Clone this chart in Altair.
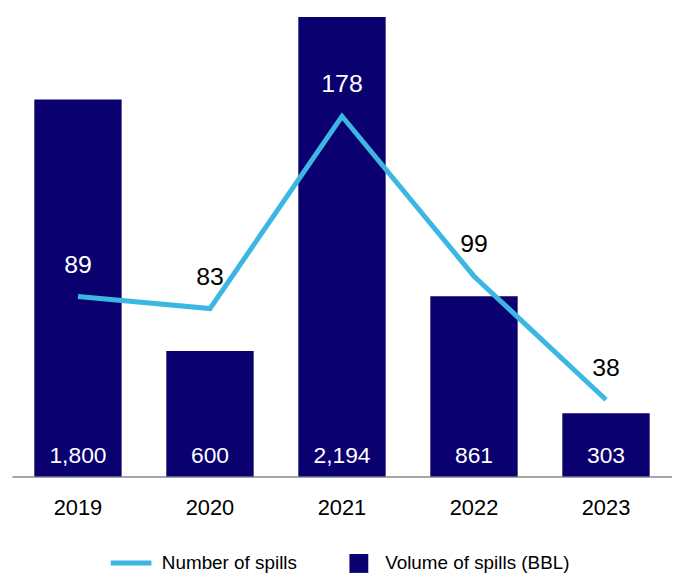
import altair as alt
import pandas as pd

years = ["2019", "2020", "2021", "2022", "2023"]
volumes = [1800, 600, 2194, 861, 303]
counts = [89, 83, 178, 99, 38]

NAVY = "#0a0070"
BLUE = "#3cb6e3"
FONT = "Liberation Sans"

df = pd.DataFrame({"year": years, "volume": volumes, "count": counts})

x_enc = alt.X(
    "year:N",
    title=None,
    scale=alt.Scale(paddingInner=0.338, paddingOuter=0.169),
    axis=alt.Axis(
        labelAngle=0,
        labelFontSize=22,
        labelFont=FONT,
        labelColor="#000000",
        labelPadding=21,
        ticks=False,
        tickSize=0,
        domainColor="#a6a6a6",
        domainWidth=2,
        grid=False,
    ),
)

base = alt.Chart(df).encode(x=x_enc)

y_vol = alt.Y("volume:Q", axis=None, scale=alt.Scale(domain=[0, 2194], nice=False))
y_cnt = alt.Y("count:Q", axis=None, scale=alt.Scale(domain=[0, 227], nice=False))

bars = base.transform_calculate(series="'Volume of spills (BBL)'").mark_bar(size=88).encode(
    y=y_vol,
    fill=alt.Fill(
        "series:N",
        scale=alt.Scale(range=[NAVY]),
        legend=alt.Legend(
            title=None,
            orient="none",
            legendX=340,
            legendY=541,
            symbolType="square",
            symbolSize=361,
            symbolStrokeWidth=0,
            labelOffset=17,
            labelFontSize=19,
            labelFont=FONT,
            labelColor="#000000",
            labelLimit=400,
            padding=0,
        ),
    ),
)

bar_text = base.mark_text(
    color="white", fontSize=23, font=FONT, baseline="middle", dy=-21
).encode(
    y=alt.Y("zero:Q", axis=None, scale=alt.Scale(domain=[0, 2194], nice=False)),
    text=alt.Text("volume:Q", format=","),
).transform_calculate(zero="0")

line = base.transform_calculate(series="'Number of spills'").mark_line(strokeWidth=5).encode(
    y=y_cnt,
    stroke=alt.Stroke(
        "series:N",
        scale=alt.Scale(range=[BLUE]),
        legend=alt.Legend(
            title=None,
            orient="none",
            legendX=97,
            legendY=527,
            symbolType="stroke",
            symbolSize=1681,
            symbolStrokeWidth=5,
            labelOffset=8,
            labelFontSize=19,
            labelFont=FONT,
            labelColor="#000000",
            labelLimit=400,
            padding=0,
        ),
    ),
)

line_text = base.mark_text(fontSize=25, font=FONT, baseline="middle", dy=-32).encode(
    y=y_cnt,
    text=alt.Text("count:Q"),
    color=alt.condition(
        "datum.year == '2019' || datum.year == '2021'",
        alt.value("white"),
        alt.value("black"),
    ),
)

bar_layer = alt.layer(bars, bar_text)
line_layer = alt.layer(line, line_text)

chart = (
    alt.layer(bar_layer, line_layer)
    .resolve_scale(y="independent")
    .properties(
        width=665,
        height=463,
        padding={"left": 4, "top": 7, "right": 0, "bottom": 100},
        autosize=alt.AutoSizeParams(type="none"),
    )
    .configure_view(stroke=None)
)

chart.save("out.html", embed_options={"renderer": "svg", "actions": False})
